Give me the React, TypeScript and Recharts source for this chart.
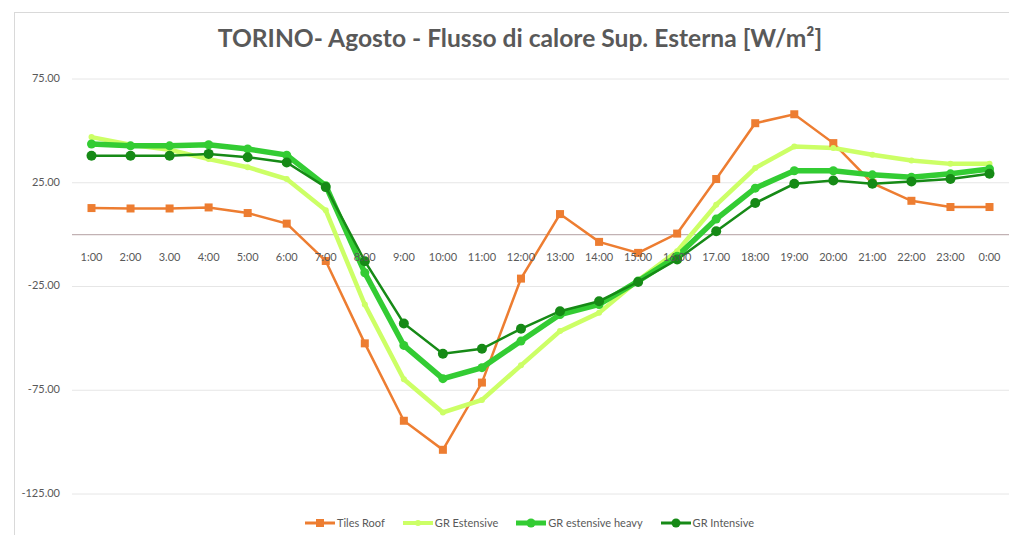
import React from 'react';
import { LineChart, Line, XAxis, YAxis, CartesianGrid, ReferenceLine } from 'recharts';

const hours = ["1:00", "2:00", "3.00", "4:00", "5:00", "6:00", "7:00", "8:00", "9:00", "10:00", "11:00", "12:00", "13:00", "14:00", "15:00", "16:00", "17.00", "18:00", "19:00", "20:00", "21:00", "22:00", "23:00", "0:00"];
const tilesRoof = [12.8, 12.6, 12.6, 13.1, 10.4, 5.3, -12.7, -52.4, -89.7, -103.7, -71.3, -21.2, 9.9, -3.5, -8.8, 0.5, 26.8, 53.7, 58.0, 44.1, 24.8, 16.3, 13.3, 13.3];
const grEstensive = [47.0, 43.3, 40.9, 36.4, 32.5, 26.8, 11.7, -33.7, -69.7, -85.7, -79.7, -63.0, -46.5, -37.7, -22.0, -8.0, 14.4, 32.1, 42.5, 41.7, 38.5, 35.7, 34.1, 34.1];
const grEstensiveHeavy = [43.7, 42.8, 42.8, 43.3, 41.3, 38.3, 23.6, -18.4, -53.4, -69.4, -64.1, -51.3, -38.5, -33.7, -22.4, -10.4, 7.5, 22.4, 30.8, 30.8, 28.8, 27.7, 29.3, 31.6];
const grIntensive = [38.0, 38.0, 38.0, 38.9, 37.3, 34.8, 22.9, -12.8, -42.8, -57.4, -55.0, -45.4, -36.9, -32.1, -22.8, -12.0, 1.6, 15.2, 24.5, 26.1, 24.5, 25.6, 26.8, 29.3];
const yTicks = [75, 25, -25, -75, -125];

const seriesNames = ["Tiles Roof", "GR Estensive", "GR estensive heavy", "GR Intensive"];
const seriesColors = ["#ED7D31", "#CCFF66", "#33CC33", "#168A16"];

const data = hours.map((h, i) => ({
  hour: h,
  tiles: tilesRoof[i],
  est: grEstensive[i],
  heavy: grEstensiveHeavy[i],
  int: grIntensive[i],
}));

const FONT = "Lato, 'Open Sans', sans-serif";

const SquareDot = (props: any) => {
  const { cx, cy } = props;
  if (cx == null || cy == null) return null;
  return <rect x={cx - 4} y={cy - 4} width={8} height={8} fill={seriesColors[0]} />;
};

const makeCircle = (color: string, r: number) => (props: any) => {
  const { cx, cy } = props;
  if (cx == null || cy == null) return null;
  return <circle cx={cx} cy={cy} r={r} fill={color} stroke="none" />;
};

const XTick = (props: any) => {
  const { x, y, payload } = props;
  return (
    <text x={x} y={y - 244} textAnchor="middle" dominantBaseline="middle" fill="#595959" fontSize={11} fontFamily={FONT}>
      {payload.value}
    </text>
  );
};

const YTick = (props: any) => {
  const { y, payload } = props;
  return (
    <text x={60} y={y} textAnchor="end" dominantBaseline="middle" fill="#595959" fontSize={11} fontFamily={FONT}>
      {Number(payload.value).toFixed(2)}
    </text>
  );
};

const LegendSample = ({ idx }: { idx: number }) => {
  const color = seriesColors[idx];
  const sw = [3, 4, 5, 3][idx];
  return (
    <svg width={30} height={12} style={{ display: 'block' }}>
      <line x1={0} y1={6} x2={30} y2={6} stroke={color} strokeWidth={sw} />
      {idx === 0 ? (
        <rect x={11} y={2} width={8} height={8} fill={color} />
      ) : (
        <circle cx={15} cy={6} r={[0, 3, 4.5, 4.5][idx]} fill={color} />
      )}
    </svg>
  );
};

export default function App() {
  return (
    <div style={{ position: 'absolute', left: 0, top: 0, width: 1009, height: 535, background: '#fff', overflow: 'hidden' }}>
      <div style={{ position: 'absolute', left: 14, top: 12, width: 1100, height: 600, border: '1px solid #d9d9d9' }} />
      <div style={{ position: 'absolute', left: 0, top: 23, width: 1040, textAlign: 'center', fontFamily: FONT, fontWeight: 700, fontSize: 24.6, color: '#595959' }}>
        TORINO- Agosto - Flusso di calore Sup. Esterna [W/m²]
      </div>
      <div style={{ position: 'absolute', left: 0, top: 0 }}>
        <LineChart width={1009} height={535} data={data} margin={{ top: 79, right: 0, bottom: 40, left: 0 }}>
          <CartesianGrid vertical={false} stroke="#e6e6e6" strokeWidth={1} />
          <XAxis dataKey="hour" height={1} axisLine={false} tickLine={false} tick={<XTick />} interval={0} padding={{ left: 19.5, right: 19.5 }} />
          <YAxis width={72} domain={[-125, 75]} ticks={yTicks} axisLine={false} tickLine={false} tick={<YTick />} />
          <ReferenceLine y={0} stroke="#c2b2b4" strokeWidth={1.2} />
          <Line dataKey="tiles" name={seriesNames[0]} stroke={seriesColors[0]} strokeWidth={2.5} dot={<SquareDot />} isAnimationActive={false} />
          <Line dataKey="est" name={seriesNames[1]} stroke={seriesColors[1]} strokeWidth={4.5} dot={makeCircle(seriesColors[1], 3)} isAnimationActive={false} />
          <Line dataKey="heavy" name={seriesNames[2]} stroke={seriesColors[2]} strokeWidth={5.5} dot={makeCircle(seriesColors[2], 4.5)} isAnimationActive={false} />
          <Line dataKey="int" name={seriesNames[3]} stroke={seriesColors[3]} strokeWidth={2.5} dot={makeCircle(seriesColors[3], 5)} isAnimationActive={false} />
        </LineChart>
      </div>
      <div style={{ position: 'absolute', left: 305, top: 516, display: 'flex', alignItems: 'center', fontFamily: FONT, fontSize: 11, color: '#595959' }}>
        {seriesNames.map((n, i) => (
          <div key={n} style={{ display: 'flex', alignItems: 'center', marginRight: 18 }}>
            <LegendSample idx={i} />
            <span style={{ marginLeft: 2 }}>{n}</span>
          </div>
        ))}
      </div>
    </div>
  );
}
